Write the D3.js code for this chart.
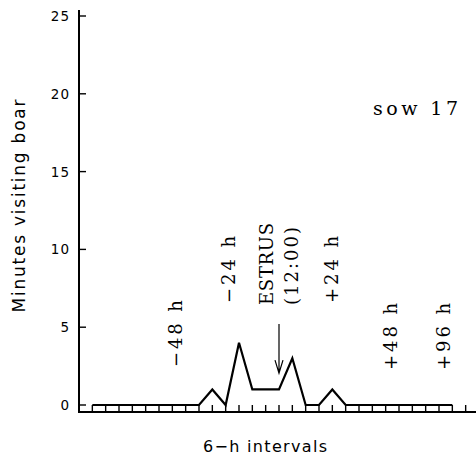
<!DOCTYPE html>
<html>
<head>
<meta charset="utf-8">
<script src="https://cdn.jsdelivr.net/npm/d3@7"></script>
<style>
  body { margin: 0; background: #fff; }
</style>
</head>
<body>
<div id="chart"></div>
<script>
// minutes per 6-h interval, intervals 1..28
const intervals = d3.range(1, 29);
const minutes = [0, 0, 0, 0, 0, 0, 0, 0, 0, 1, 0, 4, 1, 1, 1, 3, 0, 0, 1, 0, 0, 0, 0, 0, 0, 0, 0, 0];
const yTicks = [0, 5, 10, 15, 20, 25];
const xTicks = d3.range(1, 30);

// rotated notes: [text, interval position, minutes position]
const notes = [
    ["\u221248  h", 7.73, 2.44],
    ["\u221224  h", 11.7, 6.56],
    ["ESTRUS", 14.55, 6.43],
    ["(12:00)", 16.43, 6.43],
    ["+24  h", 19.43, 6.56],
    ["+48  h", 23.85, 2.25],
    ["+96  h", 27.83, 2.25]
];
const estrusAt = 15;
const sowLabel = "sow  17";

const W = 476, H = 464;

const svg = d3.select("#chart")
    .append("svg")
        .attr("width", W)
        .attr("height", H);

const x = d3.scaleLinear()
    .domain([0, 30])
    .range([79, 479]);

const y = d3.scaleLinear()
    .domain([0, 25])
    .range([405, 16]);

const AXIS_Y = 412;
const TICK = 7;

// x axis (inward ticks)
svg.append("line")
    .attr("x1", x(0)).attr("x2", x(30))
    .attr("y1", AXIS_Y).attr("y2", AXIS_Y)
    .attr("stroke", "#000").attr("stroke-width", 2);

svg.selectAll(".xtick")
    .data(xTicks)
    .enter().append("line")
        .attr("class", "xtick")
        .attr("x1", d => x(d)).attr("x2", d => x(d))
        .attr("y1", AXIS_Y).attr("y2", AXIS_Y - TICK)
        .attr("stroke", "#000").attr("stroke-width", 1.4);

// y axis
svg.append("line")
    .attr("x1", x(0)).attr("x2", x(0))
    .attr("y1", 10).attr("y2", AXIS_Y + 1)
    .attr("stroke", "#000").attr("stroke-width", 2);

svg.selectAll(".ytick")
    .data(yTicks)
    .enter().append("line")
        .attr("class", "ytick")
        .attr("x1", x(0)).attr("x2", x(0) + TICK)
        .attr("y1", d => y(d)).attr("y2", d => y(d))
        .attr("stroke", "#000").attr("stroke-width", 1.4);

svg.selectAll(".ylab")
    .data(yTicks)
    .enter().append("text")
        .attr("class", "ylab")
        .attr("x", 70)
        .attr("y", d => y(d) + 5)
        .attr("text-anchor", "end")
        .attr("font-family", "DejaVu Sans")
        .attr("font-size", 13.5)
        .attr("letter-spacing", 1)
        .text(d => d);

// axis titles
svg.append("text")
    .attr("transform", "translate(25, 206) rotate(-90)")
    .attr("text-anchor", "middle")
    .attr("font-family", "DejaVu Sans")
    .attr("font-size", 17)
    .attr("textLength", 213)
    .attr("lengthAdjust", "spacing")
    .text("Minutes  visiting  boar");

svg.append("text")
    .attr("x", 265)
    .attr("y", 452)
    .attr("text-anchor", "middle")
    .attr("font-family", "DejaVu Sans")
    .attr("font-size", 16)
    .attr("textLength", 124)
    .attr("lengthAdjust", "spacing")
    .text("6\u2212h  intervals");

// data line
const line = d3.line()
    .x((d, i) => x(intervals[i]))
    .y(d => y(d));

svg.append("path")
    .datum(minutes)
    .attr("fill", "none")
    .attr("stroke", "#000")
    .attr("stroke-width", 2.2)
    .attr("stroke-linejoin", "miter")
    .attr("d", line);

// notes
const noteLen = {"ESTRUS": 82, "(12:00)": 78};
svg.selectAll(".note")
    .data(notes)
    .enter().append("text")
        .attr("class", "note")
        .attr("transform", d => `translate(${x(d[1])}, ${y(d[2])}) rotate(-90)`)
        .attr("font-family", "DejaVu Serif")
        .attr("font-size", 18)
        .attr("textLength", d => noteLen[d[0]] || 67)
        .attr("lengthAdjust", "spacing")
        .text(d => d[0]);

// estrus arrow
const ax = x(estrusAt);
const ay1 = y(5.2), ay2 = y(2.05);
svg.append("path")
    .attr("d", `M${ax},${ay1}V${ay2}M${ax - 4},${ay2 - 13}L${ax},${ay2}L${ax + 4},${ay2 - 13}`)
    .attr("fill", "none")
    .attr("stroke", "#000")
    .attr("stroke-width", 1.2);

svg.append("text")
    .attr("x", x(22.05))
    .attr("y", y(18.64))
    .attr("font-family", "DejaVu Serif")
    .attr("font-size", 19)
    .attr("textLength", 85)
    .attr("lengthAdjust", "spacing")
    .text(sowLabel);
</script>
</body>
</html>
